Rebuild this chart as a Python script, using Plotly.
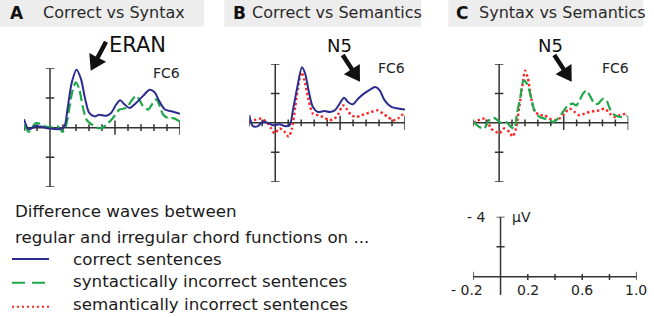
import math
import plotly.graph_objects as go

W, H = 654, 317

# ---------------- data (time in s, amplitude in µV, negative plotted up) ----------------
tA_blue = [-0.2, -0.163, -0.111, -0.072, -0.008, 0.057, 0.109, 0.134, 0.168, 0.204, 0.238, 0.271, 0.302,
           0.341, 0.380, 0.432, 0.470, 0.509, 0.540, 0.574, 0.612, 0.664, 0.716, 0.767, 0.806, 0.840,
           0.884, 0.935, 1.0]
vA_blue = [-0.57, 0.11, -0.11, -0.07, 0.05, 0.11, -0.07, -1.22, -3.06, -3.91, -3.29, -1.91, -0.99,
           -0.76, -0.87, -0.80, -0.99, -1.56, -1.84, -1.56, -1.33, -1.68, -2.14, -2.55, -2.37, -1.79,
           -1.22, -1.10, -0.94]

tA_green = [-0.2, -0.163, -0.111, -0.072, -0.034, 0.018, 0.057, 0.096, 0.121, 0.147, 0.173, 0.199, 0.225,
            0.251, 0.282, 0.328, 0.380, 0.432, 0.483, 0.535, 0.587, 0.625, 0.664, 0.716, 0.755, 0.793,
            0.819, 0.845, 0.871, 0.910, 0.948, 1.0]
vA_green = [-0.18, 0.28, -0.30, -0.25, -0.07, -0.02, -0.11, 0.28, -0.07, -1.22, -2.48, -3.06, -2.60,
            -1.45, -0.53, -0.18, 0.05, -0.18, -0.64, -1.22, -1.33, -1.79, -2.14, -1.45, -1.22, -1.68,
            -1.91, -1.45, -0.87, -0.64, -0.64, -0.41]

tB_blue = [-0.2, -0.172, -0.134, -0.095, -0.057, -0.018, 0.033, 0.072, 0.111, 0.136, 0.170, 0.206, 0.231,
           0.257, 0.290, 0.329, 0.380, 0.419, 0.458, 0.496, 0.530, 0.560, 0.599, 0.638, 0.689, 0.740,
           0.771, 0.805, 0.843, 0.895, 0.946, 1.0]
vB_blue = [-0.52, 0.22, 0.22, -0.07, 0.0, 0.16, 0.09, 0.22, 0.16, -0.85, -2.43, -3.78, -3.33,
           -2.20, -1.08, -0.74, -0.81, -0.74, -0.85, -1.30, -1.71, -1.42, -1.26, -1.64, -2.02, -2.31,
           -2.43, -2.20, -1.53, -1.08, -0.97, -0.90]

tB_red = [-0.2, -0.159, -0.108, -0.069, -0.031, -0.005, 0.033, 0.072, 0.103, 0.129, 0.154, 0.180, 0.201,
          0.226, 0.252, 0.290, 0.329, 0.368, 0.419, 0.458, 0.488, 0.522, 0.548, 0.586, 0.625, 0.663,
          0.702, 0.740, 0.792, 0.830, 0.869, 0.907, 0.946, 1.0]
vB_red = [-0.07, -0.18, -0.29, -0.07, 0.38, 0.72, 0.38, 0.61, 0.94, 0.38, -1.08, -2.65, -3.44,
          -2.88, -1.75, -0.63, -0.52, -0.40, -0.18, -0.29, -0.63, -1.19, -0.97, -0.52, -0.40, -0.52,
          -0.63, -0.74, -0.85, -0.63, -0.40, -0.18, -0.29, -0.74]

tC_green = [-0.2, -0.156, -0.117, -0.078, -0.044, -0.013, 0.013, 0.052, 0.091, 0.117, 0.138, 0.164, 0.190,
            0.216, 0.247, 0.273, 0.312, 0.351, 0.390, 0.416, 0.455, 0.494, 0.532, 0.571, 0.597, 0.623,
            0.649, 0.675, 0.701, 0.740, 0.766, 0.805, 0.831, 0.857, 0.896, 0.948, 0.987]
vC_green = [-0.07, 0.27, 0.38, -0.18, -0.36, -0.18, 0.0, -0.07, 0.27, 0.38, -0.63, -1.75, -2.88,
            -2.65, -1.75, -0.85, -0.40, -0.29, -0.18, -0.07, -0.29, -0.74, -1.19, -1.30, -1.19, -1.53,
            -1.98, -2.20, -1.87, -1.30, -1.30, -1.64, -1.53, -0.97, -0.52, -0.40, -0.52]

tC_red = [-0.2, -0.169, -0.130, -0.091, -0.065, -0.026, 0.0, 0.039, 0.078, 0.104, 0.130, 0.156, 0.182,
          0.200, 0.221, 0.247, 0.273, 0.312, 0.351, 0.390, 0.429, 0.468, 0.506, 0.545, 0.584, 0.623,
          0.662, 0.701, 0.740, 0.779, 0.818, 0.857, 0.896, 0.935, 0.987]
vC_red = [0.0, -0.13, -0.29, -0.18, 0.38, 0.61, 0.72, 0.38, 0.61, 0.94, 0.38, -1.08, -2.65,
          -3.55, -3.10, -1.75, -0.85, -0.52, -0.52, -0.29, -0.18, -0.29, -0.63, -0.97, -0.74, -0.52,
          -0.63, -0.74, -0.81, -0.85, -0.97, -0.63, -0.40, -0.52, -0.63]

x_minor_ticks = [-0.2, -0.1, 0.1, 0.2, 0.3, 0.4, 0.6, 0.7, 0.8, 0.9]
x_major_ticks = [0.5, 1.0]
y_ticks = [-4, -2, 2, 4]
scale_x_ticks = [-0.2, 0.2, 0.4, 0.6, 0.8, 1.0]
scale_x_labels = ["- 0.2", "0.2", "0.6", "1.0"]
scale_x_label_pos = [-0.2, 0.2, 0.6, 1.0]
scale_y_ticks = [-4, -2]

panel_titles = ["Correct vs Syntax", "Correct vs Semantics", "Syntax vs Semantics"]
panel_letters = ["A", "B", "C"]
legend_header = ["Difference waves between", "regular and irregular chord functions on ..."]
legend_labels = ["correct sentences", "syntactically incorrect sentences", "semantically incorrect sentences"]

BLUE = "#2B2C8F"
GREEN = "#1FA84B"
RED = "#FF2424"
AX = "#333333"

# ---------------- helpers ----------------
def px(x):
    return x / W

def py(y):
    return 1 - y / H

fig = go.Figure()

styles = {
    "blue": dict(color=BLUE, width=2, dash="solid"),
    "green": dict(color=GREEN, width=2.2, dash="10px,4px"),
    "red": dict(color=RED, width=2.4, dash="2.4px,2.6px"),
}

traces = [
    ("x", "y", tA_green, vA_green, "green"),
    ("x", "y", tA_blue, vA_blue, "blue"),
    ("x2", "y2", tB_red, vB_red, "red"),
    ("x2", "y2", tB_blue, vB_blue, "blue"),
    ("x3", "y3", tC_red, vC_red, "red"),
    ("x3", "y3", tC_green, vC_green, "green"),
]
for xa, ya, t, v, s in traces:
    fig.add_trace(go.Scatter(x=t, y=v, xaxis=xa, yaxis=ya, mode="lines",
                             line=dict(shape="spline", smoothing=0.8, **styles[s]),
                             hoverinfo="skip", showlegend=False))
fig.add_trace(go.Scatter(x=[None], y=[None], xaxis="x4", yaxis="y4", showlegend=False))

# panel geometry in pixels: (x_left(-0.2), x_right(1.0), y_top(-4), y_bottom(+4))
geo = [(24, 180, 68.3, 187), (249.3, 405, 64, 181.7), (473.3, 628.3, 64, 181.7)]
layout_axes = {}
for i, (xl, xr, yt, yb) in enumerate(geo):
    sfx = "" if i == 0 else str(i + 1)
    layout_axes["xaxis" + sfx] = dict(domain=[px(xl), px(xr)], range=[-0.2, 1.0], visible=False,
                                      anchor="y" + sfx, fixedrange=True)
    layout_axes["yaxis" + sfx] = dict(domain=[py(yb), py(yt)], range=[4, -4], visible=False,
                                      anchor="x" + sfx, fixedrange=True)
# scale panel
layout_axes["xaxis4"] = dict(domain=[px(473.3), px(636.7)], range=[-0.2, 1.0], visible=False,
                             anchor="y4", fixedrange=True)
layout_axes["yaxis4"] = dict(domain=[py(295), py(216.7)], range=[1.22, -4], visible=False,
                             anchor="x4", fixedrange=True)

shapes = []
def seg(xr, yr, x0, y0, x1, y1, w=1.5):
    shapes.append(dict(type="line", xref=xr, yref=yr, x0=x0, y0=y0, x1=x1, y1=y1,
                       line=dict(color=AX, width=w), layer="below"))

for i in range(3):
    sfx = "" if i == 0 else str(i + 1)
    xr, yr = "x" + sfx, "y" + sfx
    seg(xr, yr, -0.2, 0, 1.0, 0)
    seg(xr, yr, 0, -4, 0, 4)
    for t in x_minor_ticks:
        seg(xr, yr, t, -0.23, t, 0.23)
    for t in x_major_ticks:
        seg(xr, yr, t, -0.48, t, 0.48)
    for v in y_ticks:
        seg(xr, yr, -0.033, v, 0.033, v)

# scale axes
seg("x4", "y4", -0.2, 0, 1.0, 0)
seg("x4", "y4", 0, -4, 0, 1.22)
for t in scale_x_ticks:
    top = -0.33 if t in (-0.2, 1.0) else -0.18
    seg("x4", "y4", t, top, t, 0.22)
for v in scale_y_ticks:
    seg("x4", "y4", -0.03, v, 0.03, v)

# title bands
for x0, x1 in [(0, 204), (224.3, 421), (448.3, 643.3)]:
    shapes.append(dict(type="rect", xref="paper", yref="paper", x0=px(x0), x1=px(x1),
                       y0=py(26.7), y1=py(0), fillcolor="#EDEDED", line=dict(width=0), layer="below"))

# arrows
def arrow(tail, tip, shaft=4.5, head_len=15, head_w=19):
    dx, dy = tip[0] - tail[0], tip[1] - tail[1]
    L = math.hypot(dx, dy)
    ux, uy = dx / L, dy / L
    nx, ny = -uy, ux
    bx, by = tip[0] - ux * head_len, tip[1] - uy * head_len
    pts = [
        (tail[0] + nx * shaft / 2, tail[1] + ny * shaft / 2),
        (bx + nx * shaft / 2, by + ny * shaft / 2),
        (bx + nx * head_w / 2, by + ny * head_w / 2),
        tip,
        (bx - nx * head_w / 2, by - ny * head_w / 2),
        (bx - nx * shaft / 2, by - ny * shaft / 2),
        (tail[0] - nx * shaft / 2, tail[1] - ny * shaft / 2),
    ]
    path = "M " + " L ".join(f"{px(x):.5f},{py(y):.5f}" for x, y in pts) + " Z"
    shapes.append(dict(type="path", xref="paper", yref="paper", path=path,
                       fillcolor="#111111", line=dict(width=0)))

arrow((106, 41.7), (90.7, 70.7))
arrow((342.7, 55), (360, 81.7))
arrow((554.3, 55), (571.7, 81.7))

# legend samples
legend_y = [259, 282.7, 306.7]
legend_styles = [dict(color=BLUE, width=2), dict(color=GREEN, width=2, dash="13px,7px"),
                 dict(color=RED, width=2, dash="2px,3px")]
for yy, st in zip(legend_y, legend_styles):
    shapes.append(dict(type="line", xref="paper", yref="paper", x0=px(12), x1=px(49),
                       y0=py(yy), y1=py(yy), line=st))

FONT = "DejaVu Sans"
ann = []
def text(x, y, s, size, xanchor="left", color="#1a1a1a", bold=False, xref="paper", yref="paper"):
    if xref == "paper":
        x = px(x)
    if yref == "paper":
        y = py(y)
    ann.append(dict(x=x, y=y, xref=xref, yref=yref, text=("<b>%s</b>" % s) if bold else s,
                    showarrow=False, xanchor=xanchor, yanchor="middle",
                    font=dict(family=FONT, size=size, color=color)))

# titles
for letter, title, lx, tx in zip(panel_letters, panel_titles, [8, 231, 454], [41, 250, 477]):
    text(lx, 13, letter, 17, bold=True, color="#111111")
    text(tx, 13, title, 16, color="#2a2a2a")

# component labels
text(137.5, 44.5, "ERAN", 21, xanchor="center", color="#111111")
text(339, 46, "N5", 18, xanchor="center", color="#111111")
text(550.5, 46, "N5", 18, xanchor="center", color="#111111")
for cx, cy in [(166, 72.8), (391, 68.2), (615.3, 68.2)]:
    text(cx, cy, "FC6", 14, xanchor="center", color="#222222")

# legend text
text(13, 211, legend_header[0], 16.7)
text(13, 237, legend_header[1], 16.7)
for yy, lab in zip([259, 281, 303.5], legend_labels):
    text(71, yy, lab, 16.7)

# scale labels
text(488, 216.7, "- 4", 14, xanchor="right", color="#222222")
text(510, 217, "µV", 14, color="#222222")
for pos, lab in zip(scale_x_label_pos, scale_x_labels):
    shift = -6 if pos == -0.2 else (-1 if pos == 1.0 else 0)
    ann.append(dict(x=pos, y=py(290), xref="x4", yref="paper", text=lab, showarrow=False,
                    xanchor="center", yanchor="middle", xshift=shift,
                    font=dict(family=FONT, size=14, color="#222222")))

fig.update_layout(width=W, height=H, margin=dict(l=0, r=0, t=0, b=0),
                  paper_bgcolor="white", plot_bgcolor="rgba(0,0,0,0)",
                  shapes=shapes, annotations=ann, showlegend=False, **layout_axes)

fig.write_html("out.html", config={"displayModeBar": False, "staticPlot": True},
               post_script="document.body.style.margin='0';document.body.style.padding='0';")
